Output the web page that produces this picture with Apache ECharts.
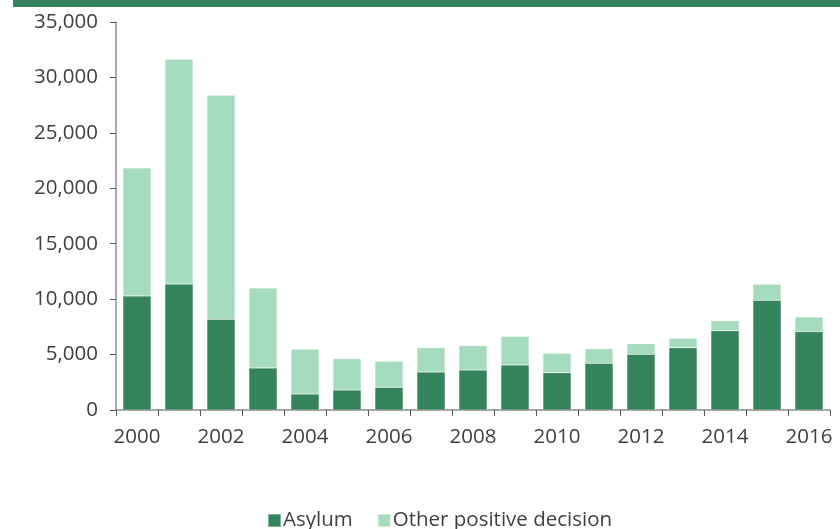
<!DOCTYPE html>
<html>
<head>
<meta charset="utf-8">
<script src="https://cdn.jsdelivr.net/npm/echarts@6/dist/echarts.min.js"></script>
<style>html,body{margin:0;padding:0;background:#fff}#c{width:840px;height:529px}</style>
</head>
<body>
<div id="c"></div>
<script>
var years = ['2000','2001','2002','2003','2004','2005','2006','2007','2008','2009','2010','2011','2012','2013','2014','2015','2016'];
var asylum = [10290, 11370, 8185, 3790, 1445, 1805, 2045, 3430, 3610, 4060, 3370, 4215, 5025, 5625, 7155, 9900, 7070];
var otherPositive = [11550, 20280, 20215, 7220, 4035, 2825, 2350, 2195, 2195, 2590, 1745, 1320, 960, 845, 905, 1445, 1325];
var yTicks = [0, 5000, 10000, 15000, 20000, 25000, 30000, 35000];

var chart = echarts.init(document.getElementById('c'));
var font = 'Open Sans, Noto Sans, sans-serif';
chart.setOption({
  animation: false,
  graphic: [{type: 'rect', shape: {x: 13, y: 0, width: 827, height: 7}, style: {fill: '#36845b'}}],
  grid: {left: 116, right: 10, top: 22, bottom: 119, containLabel: false},
  legend: {
    top: 505, left: 262, itemWidth: 13, itemHeight: 13, itemGap: 24, icon: 'rect',
    textStyle: {fontSize: 20.5, color: '#404040', fontFamily: font, padding: [0, 0, 0, -3]},
    data: ['Asylum', 'Other positive decision']
  },
  xAxis: {
    type: 'category', data: years, boundaryGap: true,
    axisLine: {lineStyle: {color: '#8c8c8c', width: 1.5}},
    axisTick: {show: true, interval: 0, length: 6, lineStyle: {color: '#595959'}},
    axisLabel: {interval: 1, fontSize: 20.5, color: '#404040', fontFamily: font, margin: 17}
  },
  yAxis: {
    type: 'value', min: yTicks[0], max: yTicks[yTicks.length - 1], interval: 5000,
    axisLine: {show: true, lineStyle: {color: '#8c8c8c', width: 1.5}},
    axisTick: {show: true, length: 6, lineStyle: {color: '#595959'}},
    splitLine: {show: false},
    axisLabel: {fontSize: 20.5, color: '#404040', fontFamily: font, margin: 18,
      formatter: function (v) { return v.toLocaleString('en-US'); }}
  },
  series: [
    {name: 'Asylum', type: 'bar', stack: 'a', data: asylum, barCategoryGap: '33%',
      itemStyle: {color: '#36845b', borderColor: 'rgba(255,255,255,0.35)', borderWidth: 0.5}},
    {name: 'Other positive decision', type: 'bar', stack: 'a', data: otherPositive,
      itemStyle: {color: '#a5dbbf', borderColor: 'rgba(255,255,255,0.5)', borderWidth: 0.5}}
  ]
});
</script>
</body>
</html>
